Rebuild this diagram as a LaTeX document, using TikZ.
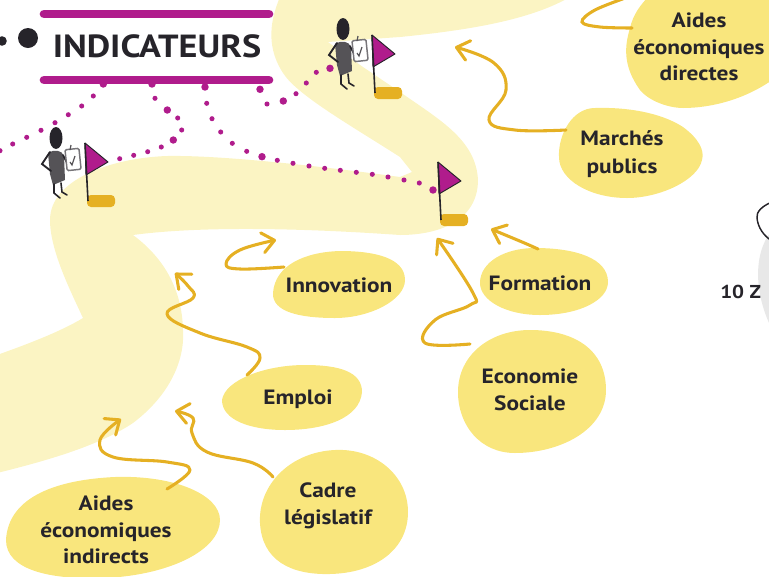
\documentclass[tikz,border=0pt]{standalone}
\usepackage{fontspec}
\setmainfont[FakeStretch=1.13]{PT Sans}
\usetikzlibrary{arrows.meta}
\definecolor{road}{HTML}{FBF4C3}
\definecolor{blobfill}{HTML}{F9E67D}
\definecolor{arrowc}{HTML}{E5B023}
\definecolor{magen}{HTML}{B01C8C}
\definecolor{inkc}{HTML}{26242A}
\definecolor{bodyc}{HTML}{555357}
\definecolor{greyb}{HTML}{E8E8E8}
\tikzset{
  x=0.75pt,y=-0.75pt,
  lbl/.style={font=\bfseries\fontsize{15.5}{15.5}\selectfont,text=inkc,inner sep=0pt,anchor=center},
  conn/.style={draw=arrowc,line width=2.3pt,line cap=round,line join=round,
     -{Straight Barb[length=9pt,width=15pt,line width=2.3pt,round]}},
  connplain/.style={draw=arrowc,line width=2.3pt,line cap=round},
  bar/.style={draw=magen,line width=6.5pt,line cap=round},
  flagpic/.pic={
    \fill[arrowc,rounded corners=3pt] (2,52) rectangle (30,64);
    \fill[magen,draw=inkc,line width=0.7pt,line join=round] (0,0) -- (23,19) -- (1,32) -- cycle;
    \draw[inkc,line width=1.2pt] (0,0) -- (3,58);
  },
  personpic/.pic={
    \fill[inkc] (0,0) ellipse (6.5 and 11);
    \fill[bodyc] (-8,15) .. controls (-2,11) and (6,12) .. (8,18) -- (9,42) -- (-3,47) -- (-6,36) -- cycle;
    \draw[inkc,line width=1.4pt,line cap=round] (-6,14) -- (-14,26) -- (-5,33);
    \draw[inkc,line width=1.2pt,line cap=round] (7,17) -- (12,27);
    \draw[inkc,line width=1.2pt,line cap=round] (-2,46) -- (-2,55) -- (4,60);
    \draw[inkc,line width=1.2pt,line cap=round] (5,45) -- (6,54) -- (11,57);
    \draw[bodyc!80,fill=white,line width=1.1pt,rounded corners=1pt,rotate around={6:(17,21)}] (10,11) rectangle (24,32);
    \draw[bodyc,line width=0.9pt] (15,7) -- (14,12) (14,24) -- (16,27) -- (19,18);
  }
}
\begin{document}
\begin{tikzpicture}
\useasboundingbox (0,0) rectangle (769,576);
\clip (0,0) rectangle (769,576);
% grey shape at the right edge
\fill[greyb] (775,228) .. controls (755,245) and (750,290) .. (775,335) -- cycle;
\draw[inkc,line width=1.1pt] (772,202) .. controls (762,206) and (756,212) .. (757,218) .. controls (758,228) and (764,236) .. (772,241);
% road
\fill[road] (280,-3) .. controls (268,25) and (268,50) .. (283,73)
  .. controls (297,95) and (350,125) .. (400,157) -- (412,172) -- (400,177)
  .. controls (320,166) and (220,155) .. (167,156)
  .. controls (110,158) and (50,180) .. (50,220)
  .. controls (50,250) and (70,290) .. (83,318)
  .. controls (60,332) and (25,345) .. (-3,355) -- (-3,473)
  .. controls (50,460) and (100,445) .. (133,423)
  .. controls (170,395) and (185,360) .. (183,330)
  .. controls (182,285) and (160,255) .. (133,235)
  .. controls (200,226) and (300,228) .. (400,235)
  .. controls (440,235) and (478,220) .. (478,180)
  .. controls (476,140) and (440,120) .. (400,92)
  -- (363,67) -- (328,42) -- (400,37)
  .. controls (470,30) and (530,20) .. (570,-3) -- cycle;
% header
\node[inner sep=0pt] (dotA) at (28,38) {\tikz\fill[inkc] circle (7.5pt);};
\node[inner sep=0pt] (dotB) at (2,41) {\tikz\fill[inkc] circle (3.6pt);};
\coordinate (barTL) at (44,14); \coordinate (barTR) at (269,14);
\coordinate (barBL) at (44,80); \coordinate (barBR) at (269,80);
\draw[bar] (barTL) -- (barTR);
\draw[bar] (barBL) -- (barBR);
\node[lbl,font=\bfseries\fontsize{24}{24}\selectfont] (title) at (157,46) {INDICATEURS};
% dotted lines
\foreach \px/\py in {93.3/96,81.7/106,68.3/114.7,55/122.7,41/130.3,26.7/137.3,12.7/144,0/150.7,
  155/98.3,177.7/118,181.7/130,161.3/147,147.7/151.7,133.7/155.3,119.7/158.7,
  206.7/103.3,212/118.7,220.7/132,232.3/143.3,246.7/151.3,277.3/160.3,293/163.3,309/166,324.7/168.3,340.3/170.3,356.3/172.3,372.3/174.3,388/177,404/180,419.3/183,
  267/104,296/93.7,306.3/83,316.3/72.3}
  \fill[magen] (\px,\py) circle (1.9pt);
\foreach \px/\py in {103.3/84,152/84,205/87,260/89.3,167.3/110,173.3/140,262/156.7,283.3/101,330/68.3,433/190}
  \fill[magen] (\px,\py) circle (2.8pt);
% figures and flags
\pic at (56,138) {personpic};
\pic at (343,29) {personpic};
\pic at (85,143) {flagpic};
\pic at (372,35) {flagpic};
\pic at (438,162) {flagpic};
% blobs
\fill[blobfill] (650,-5) .. controls (640,5) and (633,15) .. (630,28) .. controls (625,45) and (622,65) .. (640,90)
  .. controls (650,102) and (670,108) .. (683,108) .. controls (710,108) and (745,100) .. (775,78) -- (775,-5) -- cycle;
\fill[blobfill] (559,157) .. controls (558,135) and (572,108) .. (595,108) .. controls (625,107) and (660,112) .. (683,127)
  .. controls (698,138) and (705,150) .. (702,160) .. controls (698,180) and (660,198) .. (627,198)
  .. controls (590,198) and (559,180) .. (559,157) -- cycle;
\fill[blobfill] (480,283) .. controls (480,262) and (505,248) .. (535,248) .. controls (575,248) and (608,258) .. (608,282)
  .. controls (608,300) and (580,315) .. (540,315) .. controls (505,315) and (480,300) .. (480,283) -- cycle;
\fill[blobfill] (458,392) .. controls (458,355) and (490,330) .. (530,330) .. controls (575,330) and (606,350) .. (606,390)
  .. controls (606,430) and (560,453) .. (515,453) .. controls (480,453) and (458,425) .. (458,392) -- cycle;
\fill[blobfill] (273,293) .. controls (275,265) and (305,252) .. (340,251) .. controls (375,251) and (405,258) .. (405,280)
  .. controls (405,300) and (370,318) .. (335,318) .. controls (300,318) and (272,312) .. (273,293) -- cycle;
\fill[blobfill] (222,400) .. controls (225,380) and (265,365) .. (305,365) .. controls (340,365) and (362,372) .. (362,392)
  .. controls (360,418) and (325,430) .. (285,430) .. controls (250,430) and (222,420) .. (222,400) -- cycle;
\fill[blobfill] (260,523) .. controls (258,485) and (290,452) .. (335,450) .. controls (375,448) and (408,475) .. (408,512)
  .. controls (408,550) and (375,573) .. (330,574) .. controls (290,575) and (262,560) .. (260,523) -- cycle;
\fill[blobfill] (6,540) .. controls (8,500) and (50,480) .. (115,477) .. controls (175,475) and (220,495) .. (220,520)
  .. controls (220,550) and (170,575) .. (105,578) .. controls (50,580) and (6,570) .. (6,540) -- cycle;
% labels
\node[lbl] (aidesD) at (699,47) {\parbox{110pt}{\centering\baselineskip=20pt Aides\\économiques\\directes}};
\node[lbl] (marches) at (622,154) {\parbox{70pt}{\centering\baselineskip=21pt Marchés\\publics}};
\node[lbl] (formation) at (540,283) {Formation};
\node[lbl] (economie) at (530,390) {\parbox{80pt}{\centering\baselineskip=20pt Economie\\Sociale}};
\node[lbl] (innovation) at (339,285) {Innovation};
\node[lbl] (emploi) at (298,399) {Emploi};
\node[lbl] (cadre) at (328,506) {\parbox{80pt}{\centering\baselineskip=20pt Cadre\\législatif}};
\node[lbl] (aidesI) at (106,530) {\parbox{110pt}{\centering\baselineskip=20pt Aides\\économiques\\indirects}};
\node[lbl,anchor=west,font=\bfseries\fontsize{14}{14}\selectfont] (zones) at (720,291.5) {10 Z};
% connector ends
\coordinate (sAD) at (632,28); \coordinate (eAD) at (628,-3);
\coordinate (sMa) at (566,130); \coordinate (eMa) at (455,47);
\coordinate (sFo) at (538,249); \coordinate (eFo) at (491,229);
\coordinate (sEc) at (470,344); \coordinate (eEc) at (437,238);
\coordinate (sIn) at (284,267); \coordinate (eIn) at (276,240);
\coordinate (sEm) at (247,375); \coordinate (eEm) at (175,273);
\coordinate (sCa) at (273,477); \coordinate (eCa) at (175,411);
\coordinate (sAI) at (167,489); \coordinate (eAI) at (121,419);
% connectors
\draw[connplain] plot[smooth,tension=0.6] coordinates {(sAD) (600,27) (582,22) (595,10) (eAD)};
\draw[conn] plot[smooth,tension=0.7] coordinates {(sMa) (515,130) (489,120) (506,90) (494,63) (eMa)};
\draw[conn] (sFo) .. controls (525,243) and (510,237) .. (eFo);
\draw[conn] plot[smooth,tension=0.7] coordinates {(sEc) (425,343) (435,320) (470,305) (473,293) (eEc)};
\draw[conn] plot[smooth,tension=0.7] coordinates {(sIn) (240,269) (226,264) (240,250) (eIn)};
\draw[conn] plot[smooth,tension=0.7] coordinates {(sEm) (260,358) (247,347) (200,333) (167,314) (193,298) (188,286) (eEm)};
\draw[conn] plot[smooth,tension=0.7] coordinates {(sCa) (253,463) (207,452) (192,433) (193,418) (eCa)};
\draw[conn] plot[smooth,tension=0.7] coordinates {(sAI) (190,470) (167,462) (113,457) (100,440) (eAI)};
\end{tikzpicture}
\end{document}
